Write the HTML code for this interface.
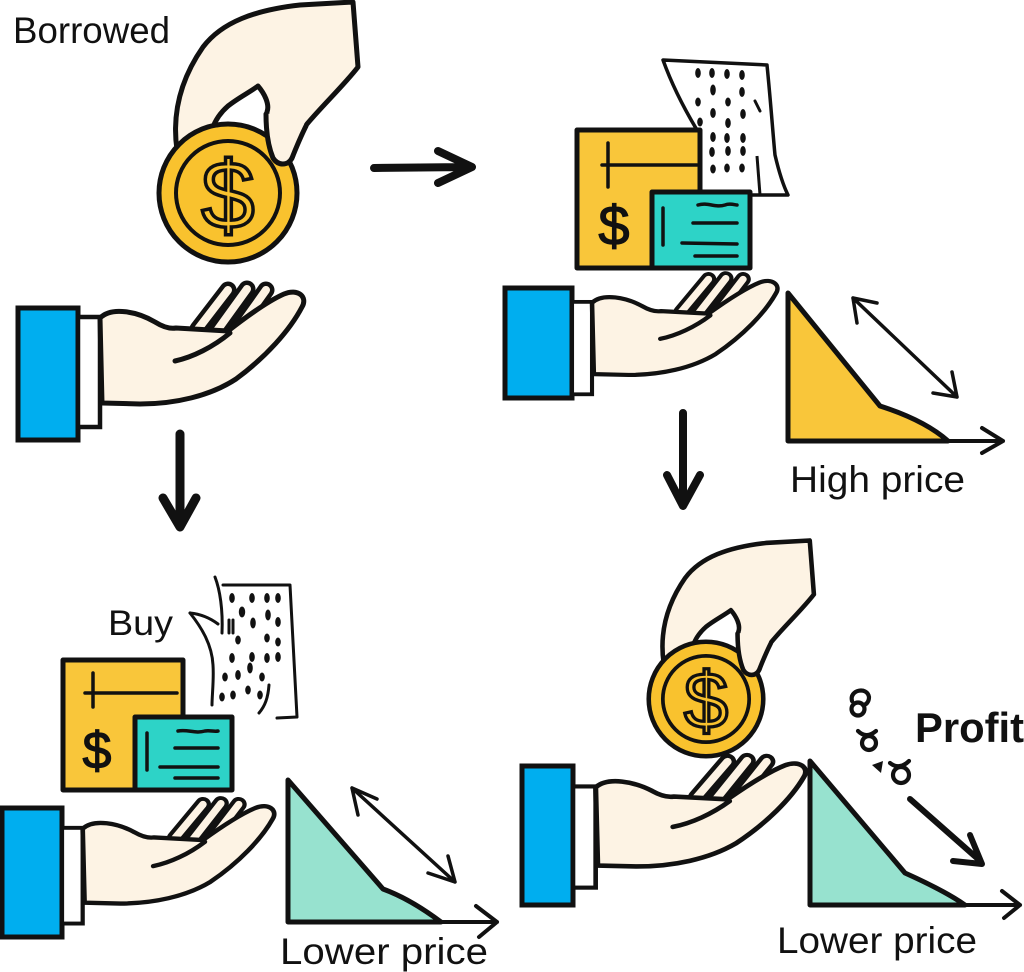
<!DOCTYPE html>
<html>
<head>
<meta charset="utf-8">
<style>
  html,body{margin:0;padding:0;background:#fff;}
  svg{display:block;}
  text{font-family:"Liberation Sans", Arial, sans-serif; fill:#111;}
</style>
</head>
<body>
<svg width="1024" height="972" viewBox="0 0 1024 972" xmlns="http://www.w3.org/2000/svg">
  <rect width="1024" height="972" fill="#fff"/>

  <!-- ========== PANEL 1 ========== -->
  <text x="13" y="43" font-size="37" textLength="157" lengthAdjust="spacingAndGlyphs">Borrowed</text>

  <g>
    <path d="M177,150 C172,115 180,80 203,47 C222,22 255,10 300,5 L353,2 L358,67 C345,84 322,106 307,124 C298,137 295,150 292,158 C287,166 277,166 273,158 C268,145 266,128 267,112 C270,104 264,93 258,86 C250,92 238,98 228,106 C220,113 215,120 212,130 L205,150 Z" fill="#FDF3E4" stroke="#111" stroke-width="5" stroke-linejoin="round"/>
    <circle cx="228" cy="193" r="69" fill="#F9C22E" stroke="#111" stroke-width="5"/>
    <circle cx="228" cy="193" r="52" fill="none" stroke="#111" stroke-width="4"/>
    <text x="228" y="228" font-size="96" text-anchor="middle" style="fill:#F9C22E" stroke="#111" stroke-width="3.5">$</text>
    <path d="M266,114 C266,132 268,146 273,158 C278,166 288,166 292,158 C296,148 300,138 306,126 L290,112 Z" fill="#FDF3E4"/>
    <path d="M266,114 C266,132 268,146 273,158 C278,166 288,166 292,158 C296,148 300,138 306,126" fill="none" stroke="#111" stroke-width="5" stroke-linecap="round"/>
  </g>

  <path d="M374,168 L471,167 M438,151 L472,167 L438,183" fill="none" stroke="#111" stroke-width="8" stroke-linecap="round" stroke-linejoin="round"/>

  <rect x="18" y="308" width="60" height="132" fill="#00AEEF" stroke="#111" stroke-width="5"/>
  <g transform="translate(78,285)">
    <rect x="0" y="32" width="22" height="110" fill="#fff" stroke="#111" stroke-width="4.5"/>
    <path d="M120,44 L150,5" stroke="#111" stroke-width="17" stroke-linecap="round"/>
    <path d="M120,44 L150,5" stroke="#FDF3E4" stroke-width="8" stroke-linecap="round"/>
    <path d="M138,47 L169,4" stroke="#111" stroke-width="17" stroke-linecap="round"/>
    <path d="M138,47 L169,4" stroke="#FDF3E4" stroke-width="8" stroke-linecap="round"/>
    <path d="M156,50 L188,5" stroke="#111" stroke-width="17" stroke-linecap="round"/>
    <path d="M156,50 L188,5" stroke="#FDF3E4" stroke-width="8" stroke-linecap="round"/>
    <path d="M22,33 C34,21 60,27 77,37 C85,42 92,44 98,43 L150,46 C168,32 190,16 206,9 C220,3 230,12 224,22 C212,45 188,72 158,94 C132,111 97,119 62,119 L24,118 Z" fill="#FDF3E4" stroke="#111" stroke-width="5" stroke-linejoin="round"/>
    <path d="M97,76 C115,72 135,62 152,48" fill="none" stroke="#111" stroke-width="5" stroke-linecap="round"/>
  </g>

  <path d="M180,434 L180,524 M163,498 L180,527 L196,498" fill="none" stroke="#111" stroke-width="9" stroke-linecap="round" stroke-linejoin="round"/>

  <!-- ========== PANEL 2 ========== -->
  <path d="M663,60 L767,65 C771,105 773,135 775,155 C779,172 783,185 788,195 L755,195 L700,195 L697,130 C685,110 672,85 663,60 Z" fill="#fff" stroke="#111" stroke-width="3.5" stroke-linejoin="round"/>
  <path d="M757,156 L760,195" stroke="#111" stroke-width="3" fill="none"/>
  <path d="M755,101 L760,111" stroke="#111" stroke-width="3" stroke-linecap="round"/>
  <g fill="#111">
    <ellipse cx="698" cy="73" rx="2.8" ry="5"/><ellipse cx="712" cy="73" rx="2.8" ry="5"/><ellipse cx="727" cy="74" rx="2.8" ry="5"/><ellipse cx="742" cy="75" rx="2.8" ry="5"/>
    <ellipse cx="713" cy="90" rx="2.8" ry="5.5"/><ellipse cx="742" cy="92" rx="2.8" ry="5"/>
    <ellipse cx="698" cy="102" rx="2.8" ry="4.5"/><ellipse cx="728" cy="102" rx="2.8" ry="4.5"/>
    <ellipse cx="713" cy="113" rx="2.8" ry="5"/><ellipse cx="743" cy="114" rx="2.8" ry="5"/>
    <ellipse cx="700" cy="122" rx="2.8" ry="4.5"/><ellipse cx="728" cy="123" rx="2.8" ry="5"/>
    <ellipse cx="713" cy="137" rx="2.8" ry="5"/><ellipse cx="727" cy="138" rx="2.8" ry="5"/><ellipse cx="743" cy="138" rx="2.8" ry="5"/>
    <ellipse cx="712" cy="152" rx="2.8" ry="5"/><ellipse cx="728" cy="151" rx="2.8" ry="5"/><ellipse cx="743" cy="151" rx="2.8" ry="5"/>
    <ellipse cx="713" cy="169" rx="2.8" ry="4.5"/><ellipse cx="727" cy="168" rx="2.8" ry="4.5"/><ellipse cx="742" cy="168" rx="2.8" ry="4.5"/>
  </g>
  <rect x="577" y="130" width="123" height="138" fill="#F9C63A" stroke="#111" stroke-width="5" stroke-linejoin="round"/>
  <path d="M602,165 L697,165 M608,143 L608,187" stroke="#111" stroke-width="3.5" fill="none" stroke-linecap="round"/>
  <text x="614" y="245" font-size="56" text-anchor="middle" stroke="#111" stroke-width="1.2">$</text>
  <rect x="652" y="192" width="98" height="76" fill="#2DD3C7" stroke="#111" stroke-width="5" stroke-linejoin="round"/>
  <path d="M663,208 L663,245 M698,205 C708,202 715,208 725,205 C730,203 735,205 737,205 M693,223 L737,223 M682,243 L737,244 M695,256 L737,256" stroke="#111" stroke-width="3.5" fill="none" stroke-linecap="round"/>

  <rect x="505" y="288" width="67" height="110" fill="#00AEEF" stroke="#111" stroke-width="5"/>
  <g transform="translate(572,275) scale(0.91,0.84)">
    <rect x="0" y="32" width="22" height="110" fill="#fff" stroke="#111" stroke-width="4.5"/>
    <path d="M120,44 L150,5" stroke="#111" stroke-width="17" stroke-linecap="round"/>
    <path d="M120,44 L150,5" stroke="#FDF3E4" stroke-width="8" stroke-linecap="round"/>
    <path d="M138,47 L169,4" stroke="#111" stroke-width="17" stroke-linecap="round"/>
    <path d="M138,47 L169,4" stroke="#FDF3E4" stroke-width="8" stroke-linecap="round"/>
    <path d="M156,50 L188,5" stroke="#111" stroke-width="17" stroke-linecap="round"/>
    <path d="M156,50 L188,5" stroke="#FDF3E4" stroke-width="8" stroke-linecap="round"/>
    <path d="M22,33 C34,21 60,27 77,37 C85,42 92,44 98,43 L150,46 C168,32 190,16 206,9 C220,3 230,12 224,22 C212,45 188,72 158,94 C132,111 97,119 62,119 L24,118 Z" fill="#FDF3E4" stroke="#111" stroke-width="5" stroke-linejoin="round"/>
    <path d="M97,76 C115,72 135,62 152,48" fill="none" stroke="#111" stroke-width="5" stroke-linecap="round"/>
  </g>

  <path d="M788,293 L880,406 C905,414 930,425 948,441 L788,441 Z" fill="#F9C63A" stroke="#111" stroke-width="5" stroke-linejoin="round"/>
  <path d="M946,441 L1003,441 M982,428 L1003,441 L982,453" fill="none" stroke="#111" stroke-width="4" stroke-linecap="round" stroke-linejoin="round"/>
  <path d="M853,298 L957,397 M853,298 L877,303 M853,298 L857,323 M957,397 L933,393 M957,397 L952,372" fill="none" stroke="#111" stroke-width="3.5" stroke-linecap="round" stroke-linejoin="round"/>
  <text x="790" y="492" font-size="37" textLength="175" lengthAdjust="spacingAndGlyphs">High price</text>

  <path d="M683,413 L683,503 M667,475 L683,506 L700,475" fill="none" stroke="#111" stroke-width="8" stroke-linecap="round" stroke-linejoin="round"/>

  <!-- ========== PANEL 3 ========== -->
  <text x="108" y="635" font-size="35" textLength="65" lengthAdjust="spacingAndGlyphs">Buy</text>
  <g fill="none" stroke="#111" stroke-width="3" stroke-linecap="round" stroke-linejoin="round">
    <path d="M223,585 L290,585 L297,717 L277,718"/>
    <path d="M215,577 C220,590 223,610 222,633"/>
    <path d="M190,613 C200,614 210,618 218,624"/>
    <path d="M190,613 C202,628 212,645 213,665 C214,680 212,695 212,705"/>
    <path d="M269,685 C268,698 265,706 259,713"/>
    <path d="M229,620 L229,633 M233,620 L233,633"/>
  </g>
  <g fill="#111">
    <ellipse cx="232" cy="598" rx="2.8" ry="5"/><ellipse cx="252" cy="598" rx="2.8" ry="5"/><ellipse cx="267" cy="598" rx="2.8" ry="5"/><ellipse cx="278" cy="598" rx="2.8" ry="5"/>
    <ellipse cx="242" cy="612" rx="3.2" ry="5.5"/><ellipse cx="268" cy="615" rx="2.8" ry="5.5"/>
    <ellipse cx="253" cy="623" rx="2.8" ry="5.5"/><ellipse cx="278" cy="622" rx="2.8" ry="5"/>
    <ellipse cx="238" cy="640" rx="2.8" ry="4.5"/><ellipse cx="267" cy="638" rx="2.8" ry="4.5"/><ellipse cx="278" cy="642" rx="2.8" ry="4.5"/>
    <ellipse cx="232" cy="658" rx="2.8" ry="5"/><ellipse cx="252" cy="657" rx="2.8" ry="5"/><ellipse cx="267" cy="658" rx="2.8" ry="5"/><ellipse cx="278" cy="657" rx="2.8" ry="5"/>
    <ellipse cx="225" cy="677" rx="2.8" ry="4.5"/><ellipse cx="238" cy="675" rx="2.8" ry="5"/><ellipse cx="250" cy="668" rx="2.8" ry="5.5"/><ellipse cx="262" cy="677" rx="2.8" ry="4.5"/>
    <ellipse cx="222" cy="697" rx="2.8" ry="4.5"/><ellipse cx="233" cy="695" rx="2.8" ry="4.5"/><ellipse cx="248" cy="690" rx="2.8" ry="4.5"/><ellipse cx="260" cy="695" rx="2.8" ry="4.5"/>
  </g>
  <rect x="63" y="660" width="120" height="130" fill="#F9C63A" stroke="#111" stroke-width="5" stroke-linejoin="round"/>
  <path d="M85,693 L177,693 M93,673 L93,707" stroke="#111" stroke-width="3.5" fill="none" stroke-linecap="round"/>
  <text x="97" y="768" font-size="52" text-anchor="middle" stroke="#111" stroke-width="1.2">$</text>
  <rect x="135" y="717" width="97" height="73" fill="#2DD3C7" stroke="#111" stroke-width="5" stroke-linejoin="round"/>
  <path d="M147,733 L147,770 M178,731 C188,729 195,734 205,731 C210,730 214,732 218,731 M175,748 L218,748 M160,767 L218,767 M175,778 L218,778" stroke="#111" stroke-width="3.5" fill="none" stroke-linecap="round"/>

  <rect x="2" y="808" width="60" height="129" fill="#00AEEF" stroke="#111" stroke-width="5"/>
  <g transform="translate(62,800) scale(0.94,0.87)">
    <rect x="0" y="32" width="22" height="110" fill="#fff" stroke="#111" stroke-width="4.5"/>
    <path d="M120,44 L150,5" stroke="#111" stroke-width="17" stroke-linecap="round"/>
    <path d="M120,44 L150,5" stroke="#FDF3E4" stroke-width="8" stroke-linecap="round"/>
    <path d="M138,47 L169,4" stroke="#111" stroke-width="17" stroke-linecap="round"/>
    <path d="M138,47 L169,4" stroke="#FDF3E4" stroke-width="8" stroke-linecap="round"/>
    <path d="M156,50 L188,5" stroke="#111" stroke-width="17" stroke-linecap="round"/>
    <path d="M156,50 L188,5" stroke="#FDF3E4" stroke-width="8" stroke-linecap="round"/>
    <path d="M22,33 C34,21 60,27 77,37 C85,42 92,44 98,43 L150,46 C168,32 190,16 206,9 C220,3 230,12 224,22 C212,45 188,72 158,94 C132,111 97,119 62,119 L24,118 Z" fill="#FDF3E4" stroke="#111" stroke-width="5" stroke-linejoin="round"/>
    <path d="M97,76 C115,72 135,62 152,48" fill="none" stroke="#111" stroke-width="5" stroke-linecap="round"/>
  </g>

  <path d="M288,780 L383,889 C405,897 425,910 441,922 L288,922 Z" fill="#97E2CF" stroke="#111" stroke-width="5" stroke-linejoin="round"/>
  <path d="M440,922 L497,922 M476,906 L497,922 L479,937" fill="none" stroke="#111" stroke-width="4" stroke-linecap="round" stroke-linejoin="round"/>
  <path d="M352,788 L455,882 M352,788 L377,799 M352,788 L358,815 M455,882 L428,873 M455,882 L448,856" fill="none" stroke="#111" stroke-width="3.5" stroke-linecap="round" stroke-linejoin="round"/>
  <text x="280" y="964" font-size="37" textLength="208" lengthAdjust="spacingAndGlyphs">Lower price</text>

  <!-- ========== PANEL 4 ========== -->
  <g transform="translate(706,699) scale(0.83) translate(-228,-193)">
    <path d="M177,150 C172,115 180,80 203,47 C222,22 255,10 300,5 L353,2 L358,67 C345,84 322,106 307,124 C298,137 295,150 292,158 C287,166 277,166 273,158 C268,145 266,128 267,112 C270,104 264,93 258,86 C250,92 238,98 228,106 C220,113 215,120 212,130 L205,150 Z" fill="#FDF3E4" stroke="#111" stroke-width="5.5" stroke-linejoin="round"/>
    <circle cx="228" cy="193" r="69" fill="#F9C22E" stroke="#111" stroke-width="5.5"/>
    <circle cx="228" cy="193" r="52" fill="none" stroke="#111" stroke-width="4.5"/>
    <text x="228" y="228" font-size="96" text-anchor="middle" style="fill:#F9C22E" stroke="#111" stroke-width="4">$</text>
    <path d="M266,114 C266,132 268,146 273,158 C278,166 288,166 292,158 C296,148 300,138 306,126 L290,112 Z" fill="#FDF3E4"/>
    <path d="M266,114 C266,132 268,146 273,158 C278,166 288,166 292,158 C296,148 300,138 306,126" fill="none" stroke="#111" stroke-width="5.5" stroke-linecap="round"/>
  </g>

  <rect x="522" y="766" width="51" height="139" fill="#00AEEF" stroke="#111" stroke-width="5"/>
  <g transform="translate(573,757) scale(1.03,0.92)">
    <rect x="0" y="32" width="22" height="110" fill="#fff" stroke="#111" stroke-width="4.5"/>
    <path d="M120,44 L150,5" stroke="#111" stroke-width="17" stroke-linecap="round"/>
    <path d="M120,44 L150,5" stroke="#FDF3E4" stroke-width="8" stroke-linecap="round"/>
    <path d="M138,47 L169,4" stroke="#111" stroke-width="17" stroke-linecap="round"/>
    <path d="M138,47 L169,4" stroke="#FDF3E4" stroke-width="8" stroke-linecap="round"/>
    <path d="M156,50 L188,5" stroke="#111" stroke-width="17" stroke-linecap="round"/>
    <path d="M156,50 L188,5" stroke="#FDF3E4" stroke-width="8" stroke-linecap="round"/>
    <path d="M22,33 C34,21 60,27 77,37 C85,42 92,44 98,43 L150,46 C168,32 190,16 206,9 C220,3 230,12 224,22 C212,45 188,72 158,94 C132,111 97,119 62,119 L24,118 Z" fill="#FDF3E4" stroke="#111" stroke-width="5" stroke-linejoin="round"/>
    <path d="M97,76 C115,72 135,62 152,48" fill="none" stroke="#111" stroke-width="5" stroke-linecap="round"/>
  </g>

  <path d="M810,761 L905,873 C925,882 948,893 965,905 L810,905 Z" fill="#97E2CF" stroke="#111" stroke-width="5" stroke-linejoin="round"/>
  <path d="M963,905 L1020,905 M1002,891 L1020,905 L1004,918" fill="none" stroke="#111" stroke-width="4" stroke-linecap="round" stroke-linejoin="round"/>

  <g fill="none" stroke="#111" stroke-width="4.2" stroke-linecap="round">
    <circle cx="858" cy="709" r="6.5"/>
    <path d="M852,701 C849,690 867,686 869,697 C869,702 866,705 863,705"/>
    <circle cx="869" cy="743" r="7"/>
    <path d="M858,731 C864,737 870,736 876,731"/>
    <circle cx="901" cy="775" r="8"/>
    <path d="M890,763 C896,768 903,767 909,761"/>
  </g>
  <path d="M872,765 L883,761 L881,773 Z" fill="#111"/>
  <text x="915" y="742" font-size="42" font-weight="bold" textLength="109" lengthAdjust="spacingAndGlyphs">Profit</text>

  <path d="M910,799 L978,859 M970,835 L982,864 L953,861" fill="none" stroke="#111" stroke-width="6" stroke-linecap="round" stroke-linejoin="round"/>

  <text x="777" y="953" font-size="37" textLength="200" lengthAdjust="spacingAndGlyphs">Lower price</text>
</svg>
</body>
</html>
